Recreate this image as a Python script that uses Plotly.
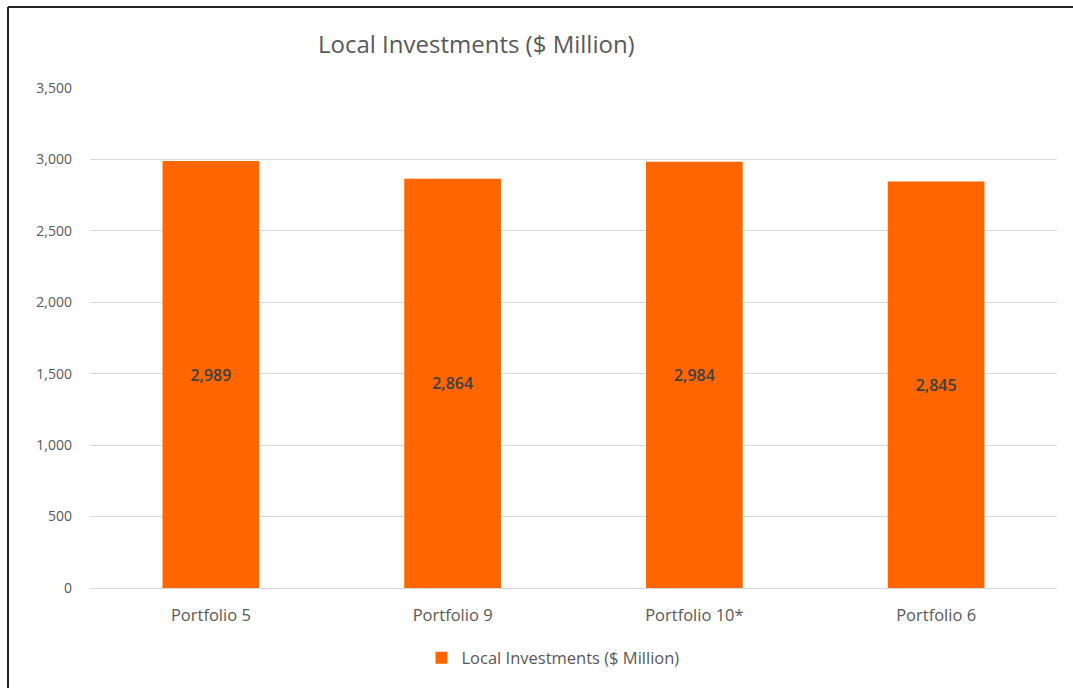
import plotly.graph_objects as go

# Chart data
portfolios = ["Portfolio 5", "Portfolio 9", "Portfolio 10*", "Portfolio 6"]
local_investments = [2989, 2864, 2984, 2845]
series_name = "Local Investments ($ Million)"
y_ticks = [0, 500, 1000, 1500, 2000, 2500, 3000, 3500]

W, H = 1073, 688
L, R, T, B = 90, 16, 88, 100

BAR = "#FF6600"
TEXT = "#595959"
GRID = "#D9D9D9"
FONT = "'Open Sans', Lato, sans-serif"

fig = go.Figure(
    go.Bar(
        x=portfolios,
        y=local_investments,
        name=series_name,
        marker=dict(color=BAR, line=dict(width=0)),
        width=0.4,
        text=[f"{v:,}" for v in local_investments],
        textposition="inside",
        insidetextanchor="middle",
        textangle=0,
        textfont=dict(family=FONT, size=16, color="#404040", weight=600),
        showlegend=True,
    )
)

fig.update_layout(
    width=W,
    height=H,
    margin=dict(l=L, r=R, t=T, b=B),
    paper_bgcolor="white",
    plot_bgcolor="white",
    font=dict(family=FONT, color=TEXT),
    bargap=0.6,
    showlegend=True,
    legend=dict(
        orientation="h",
        x=(553 - L) / (W - L - R),
        xanchor="center",
        y=-0.105,
        yanchor="top",
        font=dict(family=FONT, size=16.5, color=TEXT),
        itemwidth=30,
    ),
    xaxis=dict(
        showgrid=False,
        showline=True,
        linecolor=GRID,
        linewidth=1,
        ticks="",
        tickfont=dict(family=FONT, size=16.5, color=TEXT),
        ticklabelstandoff=12,
    ),
    yaxis=dict(
        range=[0, 3500],
        tickvals=y_ticks,
        tickformat=",",
        showgrid=True,
        gridcolor=GRID,
        gridwidth=1,
        zeroline=False,
        showline=False,
        ticks="",
        tickfont=dict(family=FONT, size=14, color=TEXT),
        ticklabelstandoff=17,
    ),
    annotations=[
        dict(
            text=series_name,
            xref="paper",
            yref="paper",
            x=(476 - L) / (W - L - R),
            y=(H - B - 44) / (H - T - B),
            xanchor="center",
            yanchor="middle",
            showarrow=False,
            font=dict(family=FONT, size=24, color=TEXT),
        )
    ],
)

# Frame lines along the top and left edges
pw, ph = W - L - R, H - T - B
left_x = (8 - L) / pw
top_y = (H - B - 7) / ph
fig.add_shape(type="line", xref="paper", yref="paper",
              x0=left_x, x1=left_x, y0=top_y, y1=(H - B - H) / ph,
              line=dict(color="#222222", width=2))
fig.add_shape(type="line", xref="paper", yref="paper",
              x0=left_x, x1=(W - L) / pw, y0=top_y, y1=top_y,
              line=dict(color="#222222", width=2))

fig.write_html("out.html")
